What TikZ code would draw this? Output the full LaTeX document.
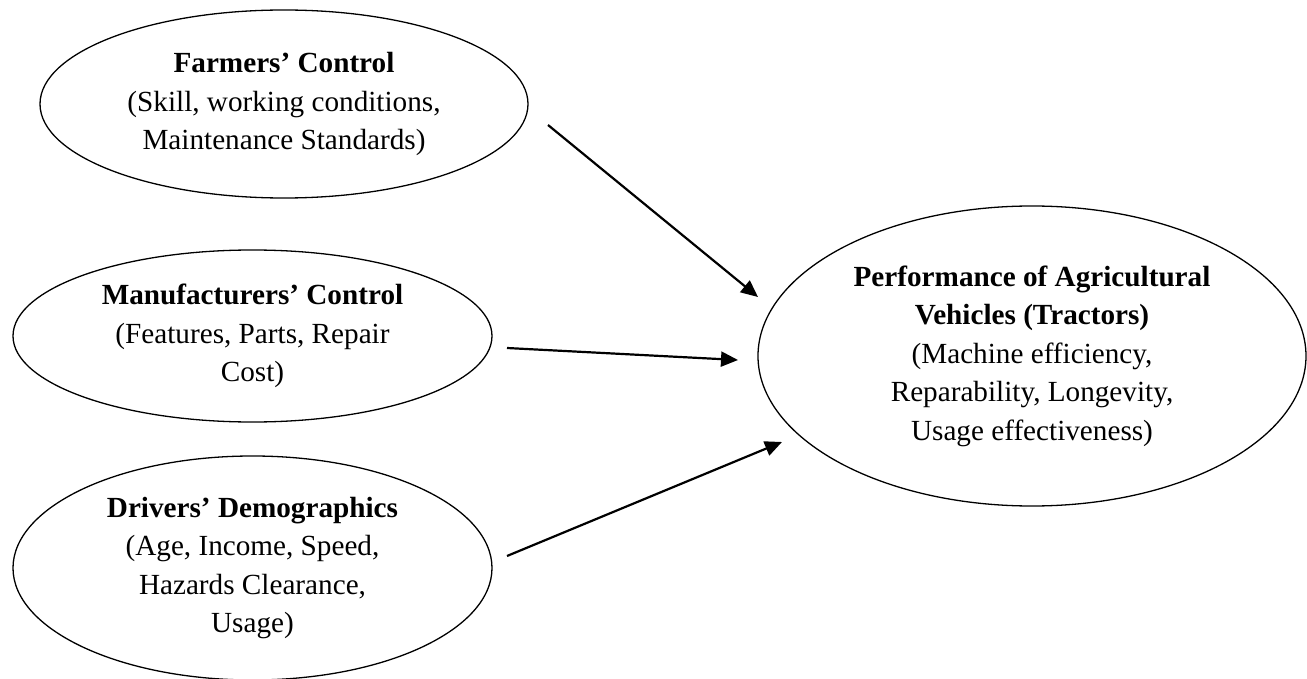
\documentclass[tikz,border=0pt]{standalone}
\usepackage{fontspec}
\setmainfont{Liberation Serif}
\usetikzlibrary{shapes.geometric,arrows.meta}
\begin{document}
\begin{tikzpicture}[x=1pt,y=-1pt,
  oval/.style={ellipse,draw=black,line width=1.3pt,inner sep=0pt,align=center,
    font=\fontsize{29.2}{38.5}\selectfont},
  conn/.style={line width=2.2pt,-{Triangle[length=17pt,width=15pt]}}]
\useasboundingbox (0,0) rectangle (1307,679);
\node[oval,minimum width=488pt,minimum height=188pt] (farm) at (284,104)
  {\textbf{Farmers’ Control}\\(Skill, working conditions,\\Maintenance Standards)};
\node[oval,minimum width=479pt,minimum height=172pt] (manu) at (252.5,336)
  {\textbf{Manufacturers’ Control}\\(Features, Parts, Repair\\Cost)};
\node[oval,minimum width=479pt,minimum height=224pt] (driv) at (252.5,568)
  {\textbf{Drivers’ Demographics}\\(Age, Income, Speed,\\Hazards Clearance,\\Usage)};
\node[oval,minimum width=548pt,minimum height=300pt] (perf) at (1032,356)
  {\textbf{Performance of Agricultural}\\\textbf{Vehicles (Tractors)}\\(Machine efficiency,\\Reparability, Longevity,\\Usage effectiveness)};
\coordinate (s1) at (548,125);
\coordinate (e1) at (758,297);
\coordinate (s2) at (507,348);
\coordinate (e2) at (738,360);
\coordinate (s3) at (507,556);
\coordinate (e3) at (782,442);
\draw[conn] (s1) -- (e1);
\draw[conn] (s2) -- (e2);
\draw[conn] (s3) -- (e3);
\end{tikzpicture}
\end{document}
